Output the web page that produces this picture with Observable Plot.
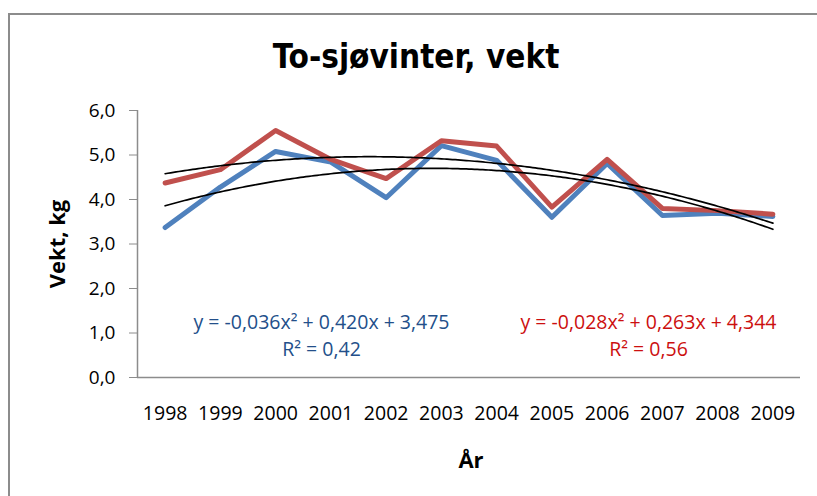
<!DOCTYPE html>
<html>
<head>
<meta charset="utf-8">
<script src="https://cdn.jsdelivr.net/npm/d3@7"></script>
<script src="https://cdn.jsdelivr.net/npm/@observablehq/plot@0.6"></script>
<style>
  body { margin: 0; background: #fff; overflow: hidden; }
  #wrap { position: relative; width: 817px; height: 496px; overflow: hidden; }
  #border { position: absolute; left: 8px; top: 13px; width: 900px; height: 700px; border: 2px solid #8c8c8c; box-sizing: border-box; }
  #chart { position: absolute; left: 0; top: 0; }
</style>
</head>
<body>
<div id="wrap"><div id="border"></div><div id="chart"></div></div>
<script>
const years = [1998, 1999, 2000, 2001, 2002, 2003, 2004, 2005, 2006, 2007, 2008, 2009];
const blueValues = [3.37, 4.28, 5.08, 4.84, 4.04, 5.21, 4.88, 3.60, 4.81, 3.64, 3.69, 3.62];
const redValues  = [4.37, 4.67, 5.55, 4.90, 4.47, 5.32, 5.20, 3.83, 4.90, 3.80, 3.75, 3.67];
const blueTrendCoef = [-0.036, 0.420, 3.475];
const redTrendCoef  = [-0.028, 0.263, 4.344];
const blueEquation = "y = -0,036x² + 0,420x + 3,475\nR² = 0,42";
const redEquation  = "y = -0,028x² + 0,263x + 4,344\nR² = 0,56";
const yTicks = [0, 1, 2, 3, 4, 5, 6];
const title = "To-sjøvinter, vekt";
const yLabel = "Vekt, kg";
const xLabel = "År";

const blueColor = "#4f81bd", redColor = "#c0504d";
const font = "'Open Sans', 'DejaVu Sans', sans-serif";

const blueData = years.map((yr, i) => ({year: yr, v: blueValues[i]}));
const redData  = years.map((yr, i) => ({year: yr, v: redValues[i]}));

// Trendline curves from the displayed polynomial coefficients (x = 1..12)
function trend(coef) {
  const out = [];
  for (let t = 1; t <= years.length + 1e-9; t += 0.05) {
    out.push({year: years[0] - 1 + t, v: coef[0] * t * t + coef[1] * t + coef[2]});
  }
  return out;
}

const chart = Plot.plot({
  width: 817,
  height: 496,
  marginLeft: 137,
  marginRight: 17,
  marginTop: 110,
  marginBottom: 119,
  style: {fontFamily: font, background: "transparent", overflow: "visible"},
  x: {domain: [years[0] - 0.5, years[years.length - 1] + 0.5]},
  y: {domain: [0, 6]},
  marks: [
    Plot.axisY({ticks: yTicks, tickFormat: d => d.toFixed(1).replace(".", ","), tickSize: 8, tickPadding: 14,
      stroke: "#8c8c8c", fill: "#000", fontSize: 19, label: null}),
    Plot.axisX({ticks: years, tickFormat: d => String(d), tickSize: 0, tickPadding: 29,
      fill: "#000", fontSize: 19.5, label: null}),
    Plot.ruleY([0], {stroke: "#8c8c8c", strokeWidth: 1.5}),
    Plot.ruleX([years[0] - 0.5], {stroke: "#8c8c8c", strokeWidth: 1.5}),
    Plot.line(blueData, {x: "year", y: "v", stroke: blueColor, strokeWidth: 5, strokeLinejoin: "round"}),
    Plot.line(redData, {x: "year", y: "v", stroke: redColor, strokeWidth: 5, strokeLinejoin: "round"}),
    Plot.line(trend(blueTrendCoef), {x: "year", y: "v", stroke: "#000", strokeWidth: 1.7}),
    Plot.line(trend(redTrendCoef), {x: "year", y: "v", stroke: "#000", strokeWidth: 1.7}),
    Plot.text([blueEquation], {frameAnchor: "top-left", dx: 184, dy: 223, textAnchor: "middle", lineAnchor: "middle",
      lineHeight: 1.42, fontSize: 19.5, fill: "#234f8a"}),
    Plot.text([redEquation], {frameAnchor: "top-left", dx: 511, dy: 223, textAnchor: "middle", lineAnchor: "middle",
      lineHeight: 1.42, fontSize: 19.5, fill: "#cc0f0f"}),
    Plot.text([title], {frameAnchor: "top", dx: -53, dy: -53, fontSize: 33, fontWeight: "bold", lineAnchor: "middle",
      fontFamily: "'Liberation Sans Narrow', 'DejaVu Sans Condensed', 'Open Sans', sans-serif", fill: "#000"}),
    Plot.text([yLabel], {frameAnchor: "left", dx: -80, rotate: -90, fontSize: 22, fontWeight: "bold",
      textAnchor: "middle", lineAnchor: "middle", fill: "#000"}),
    Plot.text([xLabel], {frameAnchor: "bottom", dx: 2, dy: 83, fontSize: 22, fontWeight: "bold",
      textAnchor: "middle", lineAnchor: "middle", fill: "#000"})
  ]
});
document.getElementById("chart").appendChild(chart);
</script>
</body>
</html>
